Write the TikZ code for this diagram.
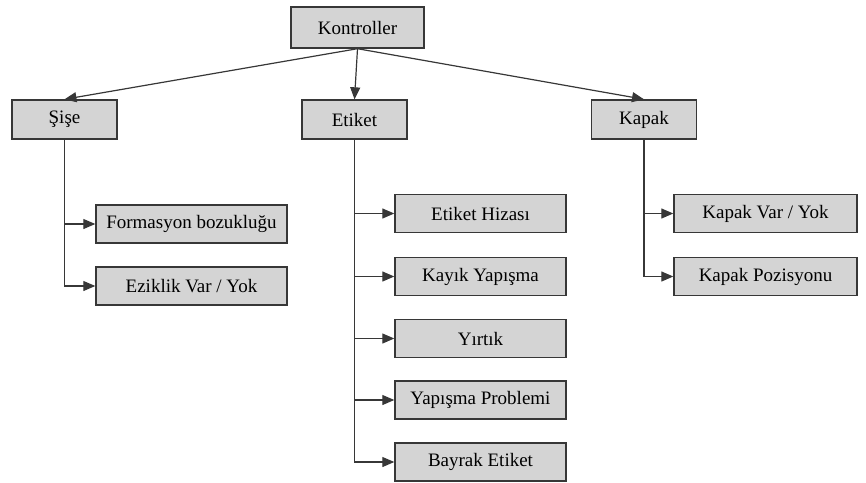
\documentclass[tikz,border=0pt]{standalone}
\usepackage{fontspec}
\setmainfont{Liberation Serif}
\usepackage{tikz}
\usetikzlibrary{arrows.meta,calc,positioning}
\definecolor{boxgray}{RGB}{212,212,212}
\definecolor{edgegray}{RGB}{55,55,55}

\begin{document}
\begin{tikzpicture}[
  box/.style={draw=edgegray, line width=1.4pt, fill=boxgray, inner sep=0pt, font=\rmfamily\fontsize{19}{22}\selectfont},
  topbox/.style={box, minimum width=105pt, minimum height=39pt},
  leaf/.style={box, minimum height=38pt},
  arr/.style={draw=edgegray, line width=1.2pt, -{Triangle[length=12pt,width=10pt]}}]
\useasboundingbox (0pt,0pt) rectangle (866pt,-482pt);

% Root and main branches
\node[box, minimum width=133pt, minimum height=41pt] (kontroller) at (357.5pt,-27.5pt) {Kontroller};
\node[topbox] (sise) at (64.5pt,-119.5pt) {Şişe};
\node[topbox] (etiket) at (354.5pt,-119.5pt) {Etiket};
\node[topbox] (kapak) at (644pt,-119.5pt) {Kapak};

% Leaves
\node[leaf, minimum width=191pt] (formasyon) at (191.5pt,-224pt) {Formasyon bozukluğu};
\node[leaf, minimum width=191pt] (eziklik) at (191.5pt,-286pt) {Eziklik Var / Yok};

\node[leaf, minimum width=171pt] (hiza) at (480.5pt,-213.5pt) {Etiket Hizası};
\node[leaf, minimum width=171pt] (kayik) at (480.5pt,-276.5pt) {Kayık Yapışma};
\node[leaf, minimum width=171pt] (yirtik) at (480.5pt,-338.5pt) {Yırtık};
\node[leaf, minimum width=171pt] (yapisma) at (480.5pt,-400pt) {Yapışma Problemi};
\node[leaf, minimum width=171pt] (bayrak) at (480.5pt,-462pt) {Bayrak Etiket};

\node[leaf, minimum width=183pt] (kapakvar) at (765.5pt,-213.5pt) {Kapak Var / Yok};
\node[leaf, minimum width=183pt] (pozisyon) at (765.5pt,-276.5pt) {Kapak Pozisyonu};

% Connectors
\draw[arr] (kontroller.south) -- (sise.north);
\draw[arr] (kontroller.south) -- (etiket.north);
\draw[arr] (kontroller.south) -- (kapak.north);

\foreach \c in {formasyon,eziklik} \draw[arr] (sise.south) |- (\c.west);
\foreach \c in {hiza,kayik,yirtik,yapisma,bayrak} \draw[arr] (etiket.south) |- (\c.west);
\foreach \c in {kapakvar,pozisyon} \draw[arr] (kapak.south) |- (\c.west);
\end{tikzpicture}
\end{document}
